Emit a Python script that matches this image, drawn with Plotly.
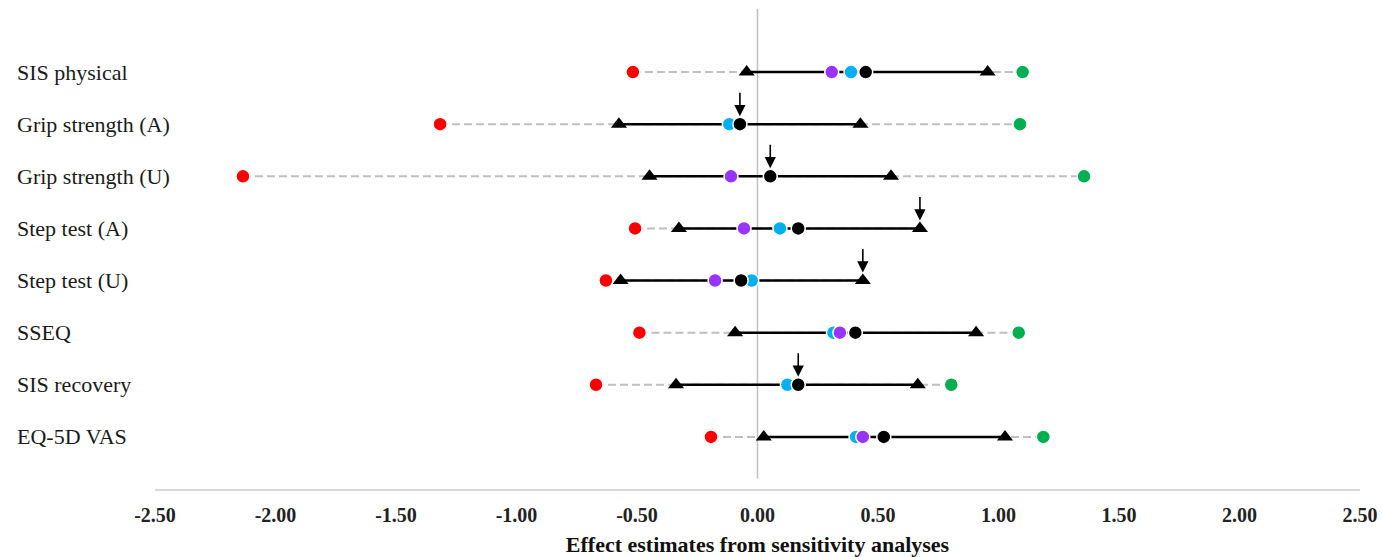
import plotly.graph_objects as go

# ---------------- data ----------------
categories = ["SIS physical", "Grip strength (A)", "Grip strength (U)", "Step test (A)",
              "Step test (U)", "SSEQ", "SIS recovery", "EQ-5D VAS"]
lowest     = [-0.517, -1.317, -2.135, -0.508, -0.629, -0.490, -0.670, -0.193]   # red
ci_low     = [-0.045, -0.575, -0.448, -0.326, -0.568, -0.093, -0.338,  0.026]   # lower triangle
purple_est = [ 0.308,  None,  -0.110, -0.056, -0.176,  0.342,  None,   0.437]
blue_est   = [ 0.388, -0.117,  None,   0.093, -0.024,  0.315,  0.124,  0.409]
estimate   = [ 0.449, -0.073,  0.053,  0.169, -0.068,  0.406,  0.169,  0.524]   # black
ci_high    = [ 0.955,  0.427,  0.554,  0.674,  0.437,  0.907,  0.665,  1.027]   # upper triangle
highest    = [ 1.100,  1.089,  1.355,  None,   None,   1.084,  0.804,  1.186]   # green
arrow_at   = [ None,  -0.073,  0.053,  0.674,  0.437,  None,   0.169,  None]

tick_vals = [-2.5, -2.0, -1.5, -1.0, -0.5, 0.0, 0.5, 1.0, 1.5, 2.0, 2.5]
tick_text = ["-2.50", "-2.00", "-1.50", "-1.00", "-0.50", "0.00", "0.50", "1.00", "1.50", "2.00", "2.50"]
x_title = "Effect estimates from sensitivity analyses"

rows = list(range(len(categories)))
SERIF = "Liberation Serif"

fig = go.Figure()

# dashed grey range lines (full span of each row)
dx, dy = [], []
for i in rows:
    vals = [v for v in (lowest[i], ci_low[i], purple_est[i], blue_est[i],
                        estimate[i], ci_high[i], highest[i]) if v is not None]
    dx += [min(vals), max(vals), None]
    dy += [i, i, None]
fig.add_trace(go.Scatter(x=dx, y=dy, mode="lines",
                         line=dict(color="#bfbfbf", width=2, dash="8px,4px"),
                         hoverinfo="skip", showlegend=False))

# solid black CI lines
cx, cy = [], []
for i in rows:
    cx += [ci_low[i], ci_high[i], None]
    cy += [i, i, None]
fig.add_trace(go.Scatter(x=cx, y=cy, mode="lines",
                         line=dict(color="black", width=2.5),
                         hoverinfo="skip", showlegend=False))

# triangles
fig.add_trace(go.Scatter(x=ci_low + ci_high, y=rows + rows, mode="markers",
                         marker=dict(symbol="triangle-up", size=14, color="black"),
                         showlegend=False))

def dots(vals, color):
    fig.add_trace(go.Scatter(x=vals, y=rows, mode="markers",
                             marker=dict(symbol="circle", size=14, color=color,
                                         line=dict(color="white", width=1.5)),
                             showlegend=False))

dots(lowest, "#ff0000")
dots(highest, "#00b050")
dots(blue_est, "#00b0f0")
dots(purple_est, "#9933ff")
dots(estimate, "#000000")

# zero reference line
fig.add_shape(type="line", xref="x", yref="y", x0=0, x1=0, y0=-1.21, y1=7.8,
              line=dict(color="#c0c0c0", width=1.5), layer="below")

# category labels (left aligned)
PLOT_W = 1382 - 155 - 22
for i in rows:
    fig.add_annotation(x=-(155 - 15) / PLOT_W, xref="paper", y=i, yref="y", text=categories[i],
                       xanchor="left", yanchor="middle", showarrow=False,
                       font=dict(family=SERIF, size=22, color="#1a1a1a"))

# arrows
for i in rows:
    if arrow_at[i] is not None:
        fig.add_annotation(x=arrow_at[i], y=i, xref="x", yref="y", text="",
                           showarrow=True, ax=0, ay=-33, arrowhead=2, arrowsize=1.4,
                           arrowwidth=1.6, arrowcolor="black", standoff=8)

fig.update_layout(
    width=1382, height=557,
    margin=dict(l=155, r=22, t=9, b=68),
    plot_bgcolor="white", paper_bgcolor="white",
    showlegend=False,
    xaxis=dict(range=[-2.5, 2.5], tickvals=tick_vals, ticktext=tick_text,
               automargin=False,
               showgrid=False, zeroline=False, showline=True,
               linecolor="#d9d9d9", linewidth=1.5, ticks="",
               ticklabelstandoff=7,
               tickfont=dict(family=SERIF, size=20, color="#222222", weight="bold"),
               title=dict(text=x_title, standoff=13,
                          font=dict(family=SERIF, size=22, color="#111111", weight="bold"))),
    yaxis=dict(range=[8, -1.21], automargin=False, showgrid=False, zeroline=False,
               showline=False, showticklabels=False, ticks=""),
)

pin_js = (
    "document.documentElement.style.margin='0';"
    "document.body.style.margin='0';"
    "var g=document.getElementsByClassName('plotly-graph-div')[0];"
    "g.style.position='fixed';g.style.left='0px';g.style.top='0px';"
)
fig.write_html("out.html", config={"displayModeBar": False}, post_script=pin_js)
